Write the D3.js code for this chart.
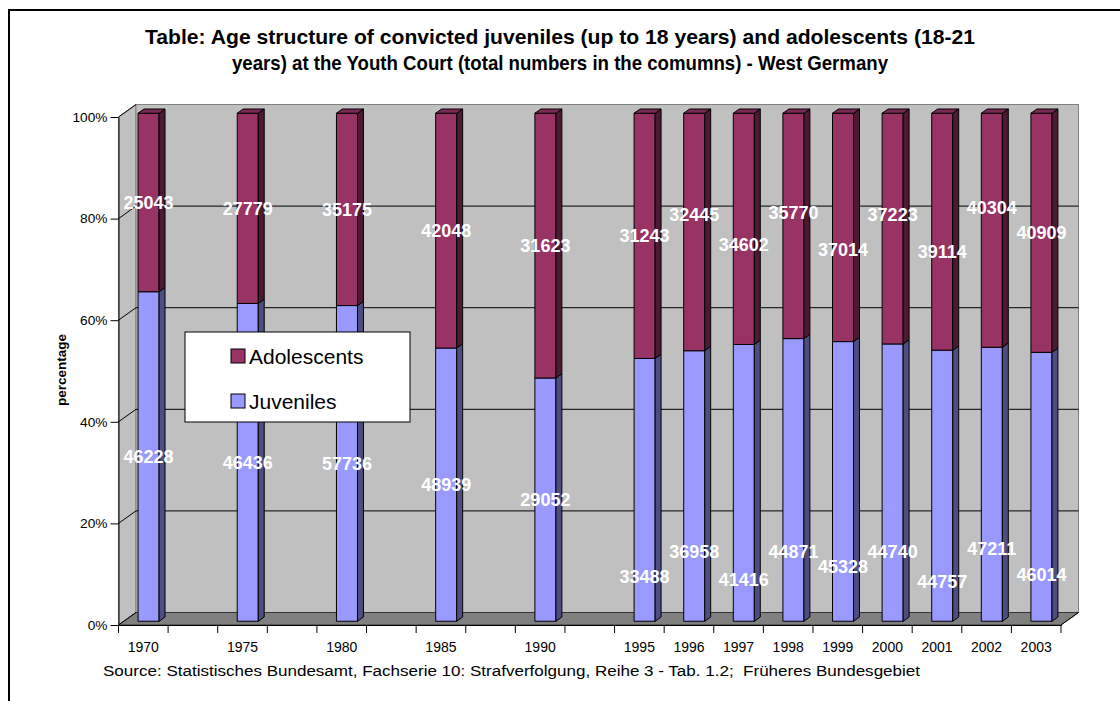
<!DOCTYPE html>
<html>
<head>
<meta charset="utf-8">
<script src="https://cdn.jsdelivr.net/npm/d3@7"></script>
<style>
  html, body { margin: 0; padding: 0; background: #fff; }
  svg { display: block; }
  text { font-family: Arial, "Liberation Sans", sans-serif; }
</style>
</head>
<body>
<svg id="chart" width="1120" height="701"></svg>
<script>
// Category slots along the x axis (blank slots keep the 5-year spacing)
const slotLabels = ["1970", "", "1975", "", "1980", "", "1985", "", "1990", "", "1995",
  "1996", "1997", "1998", "1999", "2000", "2001", "2002", "2003"];
// Years with data
const years = ["1970", "1975", "1980", "1985", "1990", "1995", "1996", "1997",
  "1998", "1999", "2000", "2001", "2002", "2003"];
// Convicted juveniles (up to 18 years)
const juveniles = [46228, 46436, 57736, 48939, 29052, 33488, 36958, 41416,
  44871, 45328, 44740, 44757, 47211, 46014];
// Convicted adolescents (18-21 years)
const adolescents = [25043, 27779, 35175, 42048, 31623, 31243, 32445, 34602,
  35770, 37014, 37223, 39114, 40304, 40909];
const yTickValues = [0, 20, 40, 60, 80, 100];
const seriesNames = ["Adolescents", "Juveniles"];

// Vertical nudges (px) of the value labels so neighbouring numbers don't collide
const juvLabelNudge = [0, 0, 0, 0, 0, 87, 66, 97, 72, 85, 69, 96, 64, 88];
const adolLabelNudge = [0, 0, 0, 0, 0, 0, -17, 16, -13, 22, -14, 20, -23, 0];

const colors = {
  Juveniles: { front: "#9999ff", side: "#4d4d80", top: "#7a7acc" },
  Adolescents: { front: "#993366", side: "#4d1a33", top: "#7a2952" }
};

const svg = d3.select("#chart");

// outer frame
svg.append("rect").attr("x", 9).attr("y", 10).attr("width", 1200).attr("height", 800)
  .attr("fill", "none").attr("stroke", "#000").attr("stroke-width", 2);

// title
const title = svg.append("g").attr("font-weight", "bold").attr("font-size", 21)
  .attr("text-anchor", "middle").attr("fill", "#000");
title.append("text").attr("x", 560).attr("y", 44)
  .attr("textLength", 830).attr("lengthAdjust", "spacingAndGlyphs")
  .text("Table: Age structure of convicted juveniles (up to 18 years) and adolescents  (18-21");
title.append("text").attr("x", 560).attr("y", 70)
  .attr("textLength", 656).attr("lengthAdjust", "spacingAndGlyphs")
  .text("years) at the Youth Court (total numbers in the comumns) - West Germany");

// 3D geometry: front plane and depth offset
const depth = { dx: 17.5, dy: -12.5 };
const x = d3.scaleBand().domain(d3.range(slotLabels.length)).range([118.5, 1061]).padding(0);
const y = d3.scaleLinear().domain([0, 100]).range([625, 117]);
const x0 = x.range()[0], x1 = x.range()[1];

const g = svg.append("g");

// side wall
g.append("path")
  .attr("d", `M${x0},${y(0)} L${x0},${y(100)} L${x0 + depth.dx},${y(100) + depth.dy} L${x0 + depth.dx},${y(0) + depth.dy} Z`)
  .attr("fill", "#c0c0c0").attr("stroke", "#808080");
// back wall
g.append("rect")
  .attr("x", x0 + depth.dx).attr("y", y(100) + depth.dy)
  .attr("width", x1 - x0).attr("height", y(0) - y(100))
  .attr("fill", "#c0c0c0").attr("stroke", "#808080");
// floor
g.append("path")
  .attr("d", `M${x0},${y(0)} L${x0 + depth.dx},${y(0) + depth.dy} L${x1 + depth.dx},${y(0) + depth.dy} L${x1},${y(0)} Z`)
  .attr("fill", "#808080").attr("stroke", "#000").attr("stroke-width", 0.6);

// gridlines: diagonal on the side wall, horizontal on the back wall
yTickValues.filter(v => v > 0 && v < 100).forEach(v => {
  g.append("path")
    .attr("d", `M${x0},${y(v)} L${x0 + depth.dx},${y(v) + depth.dy} L${x1 + depth.dx},${y(v) + depth.dy}`)
    .attr("fill", "none").attr("stroke", "#000").attr("stroke-width", 1);
});
g.append("line").attr("x1", x0).attr("y1", y(100)).attr("x2", x0 + depth.dx).attr("y2", y(100) + depth.dy)
  .attr("stroke", "#000");
g.append("line").attr("x1", x0).attr("y1", y(0)).attr("x2", x0 + depth.dx).attr("y2", y(0) + depth.dy)
  .attr("stroke", "#000");

// y axis
const yAxis = d3.axisLeft(y).tickValues(yTickValues).tickFormat(d => d + "%")
  .tickSize(8).tickSizeOuter(0).tickPadding(3);
const yg = svg.append("g").attr("transform", `translate(${x0},0)`).call(yAxis);
yg.select(".domain").attr("stroke", "#000");
yg.selectAll(".tick line").attr("stroke", "#000");
yg.selectAll(".tick text").attr("font-size", 13.7).attr("fill", "#000")
  .attr("font-family", "Arial, 'Liberation Sans', sans-serif");

// x axis labels at slot centres, tick marks at slot boundaries
const xAxis = d3.axisBottom(x).tickFormat(i => slotLabels[i]).tickSize(0).tickPadding(17);
const xg = svg.append("g").attr("transform", `translate(0,${y(0)})`).call(xAxis);
xg.select(".domain").attr("stroke", "#000");
xg.selectAll(".tick text").attr("font-size", 14).attr("fill", "#000")
  .attr("font-family", "Arial, 'Liberation Sans', sans-serif");
const boundaries = d3.range(slotLabels.length + 1).map(i => x0 + i * x.step());
svg.append("g").selectAll("line").data(boundaries).join("line")
  .attr("x1", d => d).attr("x2", d => d).attr("y1", y(0)).attr("y2", y(0) + 8)
  .attr("stroke", "#000");
svg.append("line").attr("x1", x1).attr("y1", y(0)).attr("x2", x1 + depth.dx).attr("y2", y(0) + depth.dy)
  .attr("stroke", "#000");

// stacked 100% columns
const rows = years.map((yr, i) => {
  const total = juveniles[i] + adolescents[i];
  const jp = juveniles[i] / total * 100;
  return {
    year: yr, slot: slotLabels.indexOf(yr),
    segs: [
      { name: "Juveniles", value: juveniles[i], y0: 0, y1: jp, nudge: juvLabelNudge[i] },
      { name: "Adolescents", value: adolescents[i], y0: jp, y1: 100, nudge: adolLabelNudge[i] }
    ]
  };
});

const barFrac = 0.424;            // bar width as share of slot
const f1 = 0.3, f2 = 0.64;        // depth position of bar front / back
const bw = x.bandwidth() * barFrac;
const fx = depth.dx * f1, fy = depth.dy * f1;
const bx = depth.dx * f2, by = depth.dy * f2;

const bars = svg.append("g").attr("stroke", "#000").attr("stroke-width", 1).attr("stroke-linejoin", "round");
rows.forEach(r => {
  const left = x(r.slot) + (x.bandwidth() - bw) / 2;
  r.cx = left + bw / 2 + fx;
  r.segs.forEach((s, k) => {
    const c = colors[s.name];
    const yt = y(s.y1), yb = y(s.y0);
    // front face
    bars.append("rect").attr("x", left + fx).attr("y", yt + fy)
      .attr("width", bw).attr("height", yb - yt).attr("fill", c.front);
    // side face
    const rx = left + bw;
    bars.append("path")
      .attr("d", `M${rx + fx},${yt + fy} L${rx + bx},${yt + by} L${rx + bx},${yb + by} L${rx + fx},${yb + fy} Z`)
      .attr("fill", c.side);
    // top face on the uppermost segment
    if (k === r.segs.length - 1) {
      bars.append("path")
        .attr("d", `M${left + fx},${yt + fy} L${left + bx},${yt + by} L${rx + bx},${yt + by} L${rx + fx},${yt + fy} Z`)
        .attr("fill", c.top);
    }
  });
});

// value labels in the middle of each segment
const labels = svg.append("g").attr("font-size", 18).attr("font-weight", "bold")
  .attr("fill", "#fff").attr("text-anchor", "middle");
rows.forEach(r => {
  r.segs.forEach(s => {
    labels.append("text").attr("x", r.cx)
      .attr("y", y((s.y0 + s.y1) / 2) + fy + s.nudge).attr("dy", "0.36em")
      .text(s.value);
  });
});

// legend
const lg = svg.append("g");
lg.append("rect").attr("x", 185).attr("y", 332).attr("width", 225).attr("height", 90)
  .attr("fill", "#fff").attr("stroke", "#000");
seriesNames.forEach((n, i) => {
  const yy = 349 + i * 45;
  lg.append("rect").attr("x", 231).attr("y", yy).attr("width", 14).attr("height", 14)
    .attr("fill", colors[n].front).attr("stroke", "#000");
  lg.append("text").attr("x", 249).attr("y", yy + 7).attr("dy", "0.36em")
    .attr("font-size", 21).attr("fill", "#000").text(n);
});

// y axis title
svg.append("text").attr("transform", "translate(66,370) rotate(-90)")
  .attr("text-anchor", "middle").attr("font-size", 13.5).attr("font-weight", "bold")
  .text("percentage");

// source note
svg.append("text").attr("x", 103).attr("y", 676).attr("font-size", 15.5).attr("fill", "#000")
  .attr("textLength", 817).attr("lengthAdjust", "spacingAndGlyphs")
  .style("white-space", "pre")
  .text("Source: Statistisches Bundesamt, Fachserie 10: Strafverfolgung, Reihe 3 - Tab. 1.2;  Früheres Bundesgebiet");
</script>
</body>
</html>
